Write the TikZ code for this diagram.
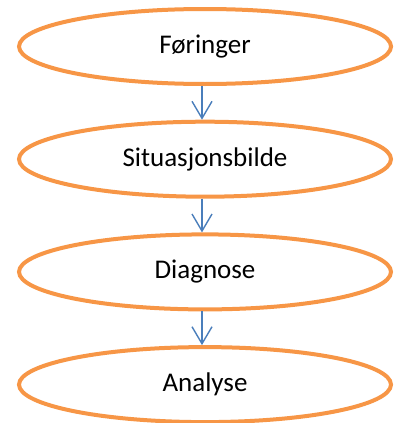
\documentclass[tikz,border=0pt]{standalone}
\usepackage{fontspec}
\setmainfont{Carlito}
\usetikzlibrary{shapes.geometric,arrows.meta}
\definecolor{ringorange}{HTML}{F79646}
\definecolor{arrowblue}{HTML}{4A7EBB}
\tikzset{
  stage/.style={ellipse, draw=ringorange, line width=4pt, fill=white,
    minimum width=372pt, minimum height=75pt, inner sep=0pt,
    font=\fontsize{27}{32}\selectfont, text=black},
  flow/.style={draw=arrowblue, line width=1.4pt,
    -{Straight Barb[length=17pt,width=20pt,line width=1.4pt]}}
}
\begin{document}
\begin{tikzpicture}[x=1pt,y=-1pt]
\useasboundingbox (0,0) rectangle (394,423);
\node[stage] (e1) at (205,46.5) {Føringer};
\node[stage] (e2) at (205,159.2) {Situasjonsbilde};
\node[stage] (e3) at (205,271.9) {Diagnose};
\node[stage] (e4) at (205,384.6) {Analyse};
\draw[flow] ([xshift=-3pt]e1.south) -- ([xshift=-3pt]e2.north);
\draw[flow] ([xshift=-3pt]e2.south) -- ([xshift=-3pt]e3.north);
\draw[flow] ([xshift=-3pt]e3.south) -- ([xshift=-3pt]e4.north);
\end{tikzpicture}
\end{document}
